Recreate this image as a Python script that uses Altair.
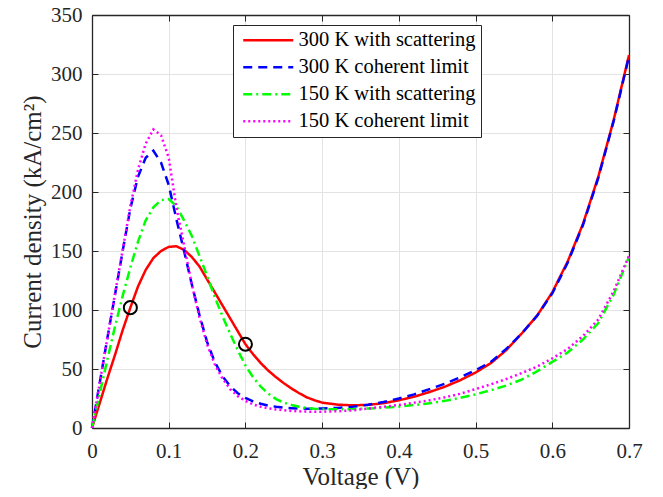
import altair as alt
import pandas as pd

# ---- data ----
voltage = [0.00, 0.01, 0.02, 0.03, 0.04, 0.05, 0.06, 0.07, 0.08, 0.09,
           0.10, 0.11, 0.12, 0.13, 0.14, 0.15, 0.16, 0.17, 0.18, 0.19,
           0.20, 0.21, 0.22, 0.23, 0.24, 0.25, 0.26, 0.27, 0.28, 0.29,
           0.30, 0.32, 0.34, 0.36, 0.38, 0.40, 0.42, 0.44, 0.46, 0.48,
           0.50, 0.52, 0.54, 0.56, 0.58, 0.60, 0.62, 0.64, 0.66, 0.68, 0.70]

j_300_scattering = [0, 21, 42, 62, 83, 102, 120, 134, 144, 150,
                    153.5, 154, 151, 145, 137, 126, 115, 104, 93, 82,
                    71, 62.5, 55, 48.5, 43, 38, 33.5, 29.5, 26, 23.5,
                    21.5, 19.8, 19.2, 19.6, 21, 23.5, 26.5, 30.5, 35, 40.5,
                    47, 55, 66, 80, 95, 115, 141, 173, 213, 261, 316]

j_300_coherent = [0, 38, 76, 113, 150, 186, 213, 229, 235, 225,
                  206, 177, 150, 122, 96, 73, 56, 44, 35.5, 29.5,
                  25.5, 22.5, 20.5, 19, 18, 17.2, 16.8, 16.5, 16.4, 16.4,
                  16.5, 17, 18, 19.7, 22, 25, 28.5, 33, 37.5, 43,
                  49, 56, 67, 80, 95, 114, 140, 172, 212, 260, 315]

j_150_scattering = [0, 29, 58, 86, 112, 136, 158, 176, 187, 193,
                    194, 188, 176, 163, 146, 129, 111, 95, 80, 66,
                    53, 43, 35, 29, 24.5, 21.5, 19.5, 18, 17, 16.4,
                    16, 15.8, 16, 16.5, 17.2, 18, 19.5, 21, 23, 25.5,
                    28.5, 32, 36, 41, 48, 56, 64, 75, 89, 113, 145]

j_150_coherent = [0, 38, 76, 114, 151, 188, 219, 241, 253, 248,
                  229, 187, 155, 122, 94, 71, 54, 42, 33, 27,
                  23, 20, 18, 16.7, 15.7, 15, 14.5, 14.1, 13.9, 13.8,
                  13.8, 14.2, 15, 16.5, 18, 19.5, 21.5, 23.5, 26, 29,
                  33, 37, 41.5, 46.5, 52, 59, 67, 78, 92, 116, 146]

series_names = ["300 K with scattering", "300 K coherent limit",
                "150 K with scattering", "150 K coherent limit"]
series_colors = ["#ff0000", "#0000ff", "#00ff00", "#ff00ff"]
series_dashes = [[1, 0], [9, 6], [9, 4, 2, 4], [2, 3]]

marker_v = [0.05, 0.20]
marker_j = [102, 71]

x_ticks = [0, 0.1, 0.2, 0.3, 0.4, 0.5, 0.6, 0.7]
y_ticks = [0, 50, 100, 150, 200, 250, 300, 350]

# ---- tables ----
all_series = [j_300_scattering, j_300_coherent, j_150_scattering, j_150_coherent]
rows = []
for name, vals in zip(series_names, all_series):
    for i, (v, j) in enumerate(zip(voltage, vals)):
        rows.append({"V": v, "J": j, "series": name, "idx": i})
df = pd.DataFrame(rows)
markers = pd.DataFrame({"V": marker_v, "J": marker_j})

FONT = "Liberation Serif"
AX = "#262626"

xscale = alt.Scale(domain=[0, 0.7], nice=False, zero=False)
yscale = alt.Scale(domain=[0, 350], nice=False, zero=False)

legend = alt.Legend(
    title=None, orient="none", legendX=141, legendY=10,
    symbolType="M-1,0H9", symbolSize=100, symbolStrokeWidth=2.5,
    labelOffset=40, labelFont=FONT, labelFontSize=20.5, labelColor="black",
    labelLimit=400, padding=5, rowPadding=6,
    fillColor="white", strokeColor=AX,
)

lines = alt.Chart(df).mark_line(strokeWidth=2.5).encode(
    x=alt.X("V:Q", scale=xscale, axis=alt.Axis(
        orient="bottom", values=x_ticks, format=".1~f", title="Voltage (V)",
        labelFont=FONT, labelFontSize=21, labelColor=AX,
        titleFont=FONT, titleFontSize=25, titleFontWeight="normal", titleColor=AX,
        tickColor=AX, tickSize={"expr": "-6"}, tickWidth=1,
        domainColor=AX, domainWidth=1.3,
        grid=True, gridColor="#e3e3e3", gridWidth=1,
        labelPadding=18, titlePadding=3, labelFlush=False)),
    y=alt.Y("J:Q", scale=yscale, axis=alt.Axis(
        orient="left", values=y_ticks, format="d", title="Current density (kA/cm²)",
        labelFont=FONT, labelFontSize=21, labelColor=AX,
        titleFont=FONT, titleFontSize=25, titleFontWeight="normal", titleColor=AX,
        tickColor=AX, tickSize={"expr": "-6"}, tickWidth=1,
        domainColor=AX, domainWidth=1.3,
        grid=True, gridColor="#e3e3e3", gridWidth=1,
        labelPadding=16, titlePadding=5, labelFlush=False)),
    color=alt.Color("series:N", scale=alt.Scale(domain=series_names, range=series_colors),
                    legend=legend),
    strokeDash=alt.StrokeDash("series:N", scale=alt.Scale(domain=series_names, range=series_dashes),
                              legend=legend),
    order="idx:Q",
)

circles = alt.Chart(markers).mark_point(
    shape="circle", filled=False, color="black", strokeWidth=2, size=170, opacity=1
).encode(
    x=alt.X("V:Q", scale=xscale, axis=alt.Axis(
        orient="top", values=x_ticks, labels=False, title="", grid=False,
        tickColor=AX, tickSize={"expr": "-6"}, tickWidth=1,
        domainColor=AX, domainWidth=1.3)),
    y=alt.Y("J:Q", scale=yscale, axis=alt.Axis(
        orient="right", values=y_ticks, labels=False, title="", grid=False,
        tickColor=AX, tickSize={"expr": "-6"}, tickWidth=1,
        domainColor=AX, domainWidth=1.3)),
)

chart = alt.layer(lines, circles).resolve_axis(
    x="independent", y="independent"
).properties(
    width=537, height=413,
    autosize=alt.AutoSizeParams(type="none"),
    padding={"left": 84, "top": 7, "right": 26, "bottom": 61},
).configure_view(stroke="transparent")

chart.save("out.html", embed_options={"renderer": "svg", "actions": False})
